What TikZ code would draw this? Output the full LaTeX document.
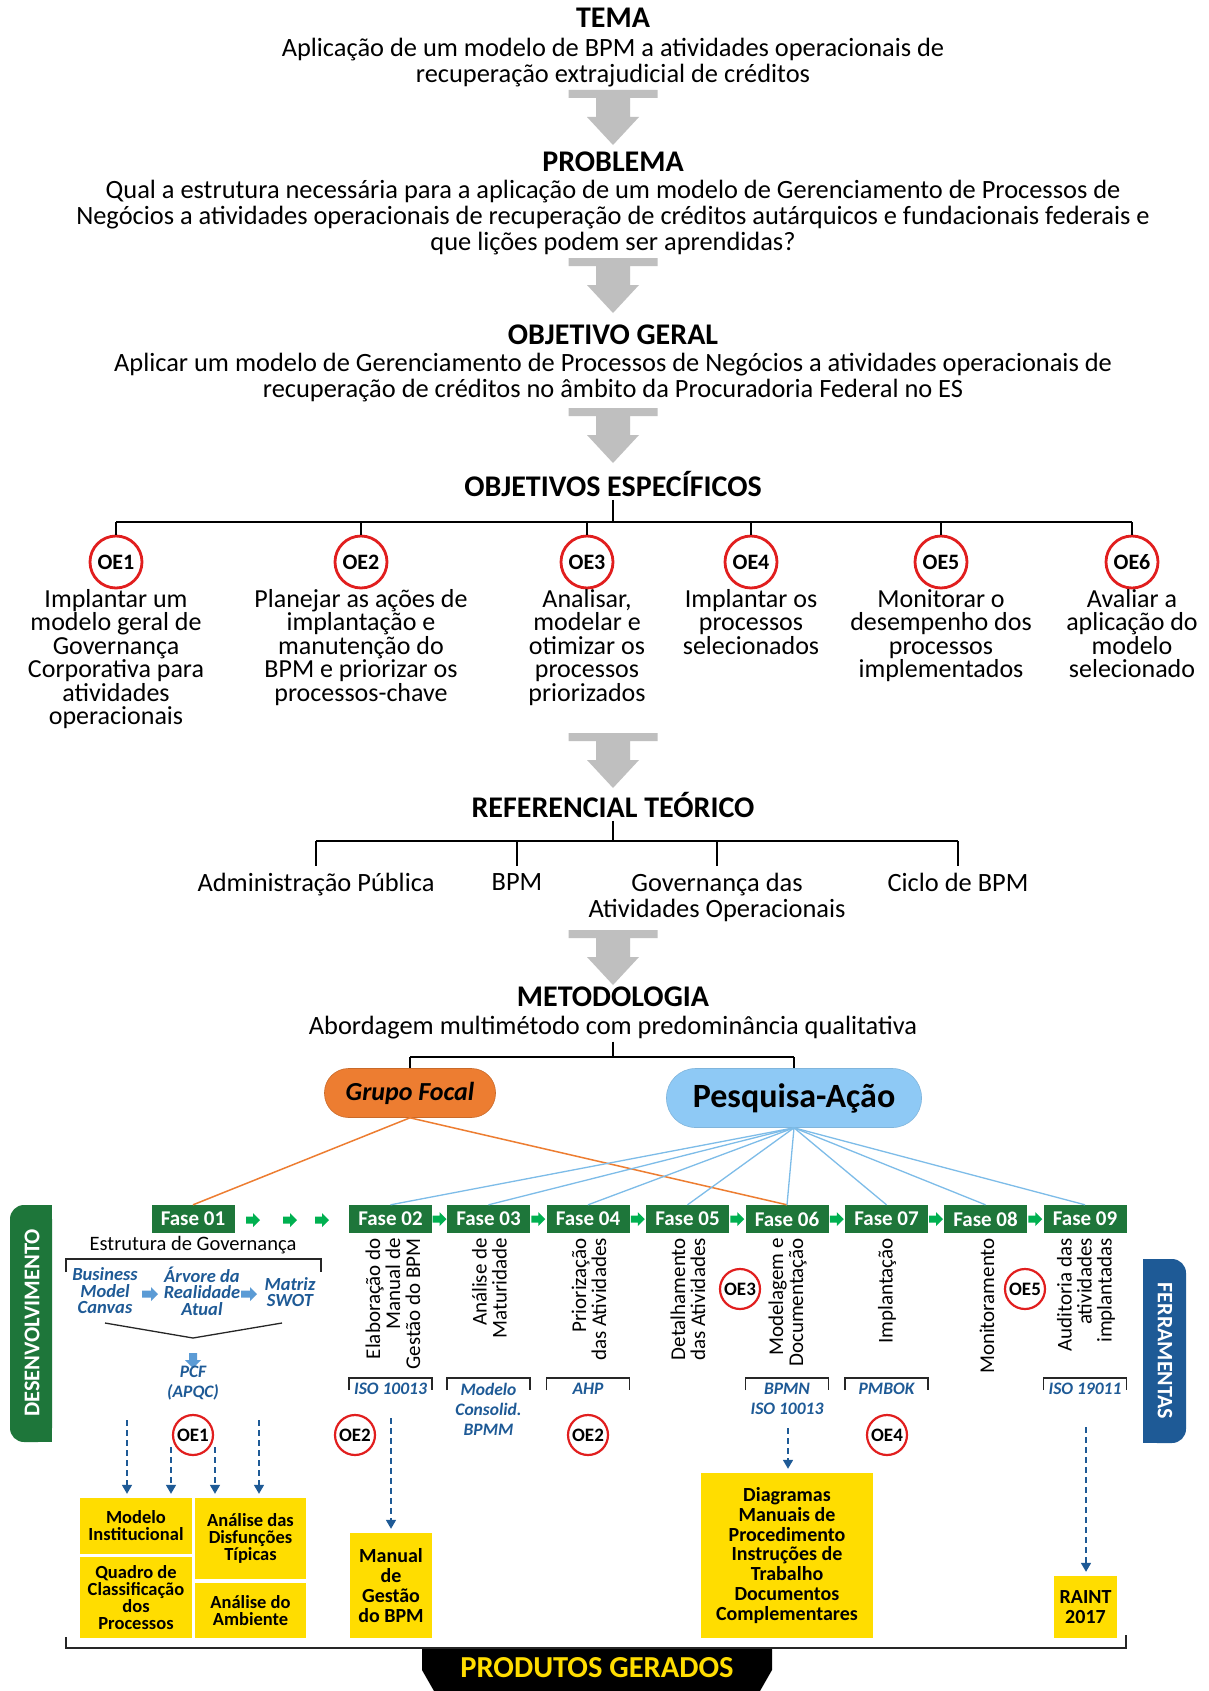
\documentclass[tikz,border=0pt]{standalone}
\usepackage{fontspec}
\setmainfont{Carlito}
\usetikzlibrary{arrows.meta,calc}
\definecolor{fgreen}{RGB}{30,118,58}
\definecolor{agreen}{RGB}{0,176,80}
\definecolor{dblue}{RGB}{30,90,150}
\definecolor{lblue}{RGB}{91,155,213}
\definecolor{pblue}{RGB}{142,201,245}
\definecolor{cblue}{RGB}{125,188,232}
\definecolor{orng}{RGB}{237,125,49}
\definecolor{ored}{RGB}{225,30,30}
\definecolor{ylw}{RGB}{255,221,0}
\definecolor{garr}{RGB}{191,191,191}
\newcommand\fTitle{\fontsize{30}{32}\selectfont\bfseries}
\newcommand\fBody{\fontsize{26.4}{26}\selectfont}
\newcommand\fOEt{\fontsize{26}{23.5}\selectfont}
\newcommand\fRef{\fontsize{26.4}{26}\selectfont}
\newcommand\fOEc{\fontsize{22}{22}\selectfont\bfseries}
\newcommand\fOEs{\fontsize{19}{19}\selectfont\bfseries}
\newcommand\fFase{\fontsize{21}{21}\selectfont\bfseries}
\newcommand\fV{\fontsize{21}{20}\selectfont}
\newcommand\fTool{\fontsize{17.5}{20}\selectfont\bfseries\itshape}
\newcommand\fBlue{\fontsize{18.5}{16.5}\selectfont\bfseries\itshape}
\newcommand\fY{\fontsize{18.5}{17}\selectfont\bfseries}
\newcommand\fYb{\fontsize{20}{19.7}\selectfont\bfseries}
\newcommand\fSideA{\fontsize{22.5}{22}\selectfont\bfseries}
\newcommand\fSideB{\fontsize{22}{22}\selectfont\bfseries}
\newcommand\fGov{\fontsize{20.5}{22}\selectfont}
\newcommand\fGF{\fontsize{26}{26}\selectfont\bfseries\itshape}
\newcommand\fPA{\fontsize{34}{34}\selectfont\bfseries}
\newcommand\fPG{\fontsize{30.5}{30.5}\selectfont\bfseries}
\begin{document}
\begin{tikzpicture}[x=1pt,y=-1pt,
  ttl/.style={font=\fTitle, inner sep=0},
  body/.style={font=\fBody, align=center, inner sep=0},
  oec/.style={circle, draw=ored, line width=2.8pt, fill=white, minimum size=52pt, inner sep=0, font=\fOEc},
  oesm/.style={circle, draw=ored, line width=2.2pt, fill=white, minimum size=40pt, inner sep=0, font=\fOEs},
  oetxt/.style={font=\fOEt, align=center, inner sep=0, anchor=north},
  reflab/.style={font=\fRef, align=center, inner sep=0, anchor=north},
  tree/.style={line width=1.6pt, black},
  fase/.style={fill=fgreen, text=white, font=\fFase, minimum width=83pt, minimum height=28pt, inner sep=0},
  vlab/.style={rotate=90, anchor=east, align=right, font=\fV, inner sep=0},
  tool/.style={font=\fTool, text=dblue, align=center, inner sep=0, anchor=north},
  bluet/.style={font=\fBlue, text=dblue, align=center, inner sep=0},
  brk/.style={line width=1.3pt, black!85},
  ybox/.style={fill=ylw, align=center, inner sep=0, font=\fY},
  darr/.style={dblue, line width=1.6pt, dash pattern=on 6pt off 4pt, shorten >=4pt, -{Triangle[width=10pt,length=9pt]}},
  ocon/.style={orng, line width=1.5pt},
  bcon/.style={cblue, line width=1.3pt},
  grayarrow/.pic={\fill[garr] (-44.5,0) -- (44.5,0) -- (44.5,8) -- (17,8) -- (17,27) -- (26,27) -- (0,55) -- (-26,27) -- (-17,27) -- (-17,8) -- (-44.5,8) -- cycle;},
  garrow/.pic={\fill[agreen] (-7,-3.5) -- (0,-3.5) -- (0,-7) -- (7,0) -- (0,7) -- (0,3.5) -- (-7,3.5) -- cycle;},
  barrow/.pic={\fill[lblue] (-8,-3.5) -- (1,-3.5) -- (1,-7) -- (8,0) -- (1,7) -- (1,3.5) -- (-8,3.5) -- cycle;},
  bdarrow/.pic={\fill[lblue] (-4,0) -- (4,0) -- (4,7) -- (8,7) -- (0,15) -- (-8,7) -- (-4,7) -- cycle;},
]
\useasboundingbox (0,0) rectangle (1208,1691);
\fill[white] (0,0) rectangle (1208,1691);

% ---------- top section ----------
\node[ttl] (tema) at (613,18) {TEMA};
\node[body] (temat) at (613,63) {Aplicação de um modelo de BPM a atividades operacionais de\\recuperação extrajudicial de créditos};
\pic at (613,90) {grayarrow};
\node[ttl] (prob) at (613,162) {PROBLEMA};
\node[body] (probt) at (613,218) {Qual a estrutura necessária para a aplicação de um modelo de Gerenciamento de Processos de\\Negócios a atividades operacionais de recuperação de créditos autárquicos e fundacionais federais e\\que lições podem ser aprendidas?};
\pic at (613,258) {grayarrow};
\node[ttl] (og) at (613,335) {OBJETIVO GERAL};
\node[body] (ogt) at (613,378) {Aplicar um modelo de Gerenciamento de Processos de Negócios a atividades operacionais de\\recuperação de créditos no âmbito da Procuradoria Federal no ES};
\pic at (613,408) {grayarrow};
\node[ttl] (oes) at (613,484) {OBJETIVOS ESPECÍFICOS};

% ---------- specific objectives ----------
\node[oec] (oe1) at (116,562) {OE1};
\node[oec] (oe2) at (361,562) {OE2};
\node[oec] (oe3) at (587,562) {OE3};
\node[oec] (oe4) at (751,562) {OE4};
\node[oec] (oe5) at (941,562) {OE5};
\node[oec] (oe6) at (1132,562) {OE6};
\draw[tree] ([yshift=-3pt]oes.south) -- (613,522);
\draw[tree] (116,522) -- (1132,522);
\foreach \o in {oe1,oe2,oe3,oe4,oe5,oe6} \draw[tree] (\o.north |- 0,522) -- (\o.north);
\node[oetxt] (oe1t) at (116,589) {Implantar um\\modelo geral de\\Governança\\Corporativa para\\atividades\\operacionais};
\node[oetxt] (oe2t) at (361,589) {Planejar as ações de\\implantação e\\manutenção do\\BPM e priorizar os\\processos-chave};
\node[oetxt] (oe3t) at (587,589) {Analisar,\\modelar e\\otimizar os\\processos\\priorizados};
\node[oetxt] (oe4t) at (751,589) {Implantar os\\processos\\selecionados};
\node[oetxt] (oe5t) at (941,589) {Monitorar o\\desempenho dos\\processos\\implementados};
\node[oetxt] (oe6t) at (1132,589) {Avaliar a\\aplicação do\\modelo\\selecionado};
\pic at (613,733) {grayarrow};

% ---------- referencial ----------
\node[ttl] (ref) at (613,805) {REFERENCIAL TEÓRICO};
\draw[tree] ([yshift=-3pt]ref.south) -- (613,841);
\draw[tree] (316,841) -- (958,841);
\node[reflab] (r1) at (316,873) {Administração Pública};
\node[reflab] (r2) at (517,873) {BPM};
\node[reflab] (r3) at (717,873) {Governança das\\Atividades Operacionais};
\node[reflab] (r4) at (958,873) {Ciclo de BPM};
\foreach \r in {r1,r2,r3,r4} \draw[tree] (\r.north |- 0,841) -- (\r.north |- 0,866);
\pic at (613,930) {grayarrow};

% ---------- metodologia ----------
\node[ttl] (met) at (613,997) {METODOLOGIA};
\node[body] (mett) at (613,1028) {Abordagem multimétodo com predominância qualitativa};
\node[fill=orng, draw=orng!85!black, line width=0.6pt, rounded corners=24pt, minimum width=171pt, minimum height=49pt, inner sep=0, font=\fGF] (gf) at (410,1093) {Grupo Focal};
\node[fill=pblue, draw=pblue!90!black, line width=0.6pt, rounded corners=29pt, minimum width=255pt, minimum height=59pt, inner sep=0, font=\fPA] (pa) at (794,1098) {Pesquisa-Ação};
\draw[tree] ([yshift=-2pt]mett.south) -- (613,1057);
\draw[tree] (gf.north |- 0,1057) -- (pa.north |- 0,1057);
\draw[tree] (gf.north |- 0,1057) -- (gf.north);
\draw[tree] (pa.north |- 0,1057) -- (pa.north);

% ---------- phases ----------
\node[fase] (f1) at (193,1219) {Fase 01};
\node[fase] (f2) at (390.5,1219) {Fase 02};
\node[fase] (f3) at (488.5,1219) {Fase 03};
\node[fase] (f4) at (588,1219) {Fase 04};
\node[fase] (f5) at (687.5,1219) {Fase 05};
\node[fase] (f6) at (787,1219) {Fase 06};
\node[fase] (f7) at (886.5,1219) {Fase 07};
\node[fase] (f8) at (985.5,1219) {Fase 08};
\node[fase] (f9) at (1085,1219) {Fase 09};
\draw[ocon] (gf.south) -- (f1.north);
\draw[ocon] (gf.south) -- (f6.north);
\foreach \f in {f2,f3,f4,f5,f6,f7,f8,f9} \draw[bcon] (pa.south) -- (\f.north);
\pic at (253,1220) {garrow};
\pic at (290,1220) {garrow};
\pic at (322,1220) {garrow};
\pic at ($(f2.east)!0.5!(f3.west)$) {garrow};
\pic at ($(f3.east)!0.5!(f4.west)$) {garrow};
\pic at ($(f4.east)!0.5!(f5.west)$) {garrow};
\pic at ($(f5.east)!0.5!(f6.west)$) {garrow};
\pic at ($(f6.east)!0.5!(f7.west)$) {garrow};
\pic at ($(f7.east)!0.5!(f8.west)$) {garrow};
\pic at ($(f8.east)!0.5!(f9.west)$) {garrow};

% vertical labels
\node[vlab] (v2) at (393,1238) {Elaboração do\\Manual de\\Gestão do BPM};
\node[vlab] (v3) at (489.5,1238) {Análise de\\Maturidade};
\node[vlab] (v4) at (589,1238) {Priorização\\das Atividades};
\node[vlab] (v5) at (688,1238) {Detalhamento\\das Atividades};
\node[vlab] (v6) at (787.5,1238) {Modelagem e\\Documentação};
\node[vlab] (v7) at (887,1238) {Implantação};
\node[vlab] (v8) at (987,1238) {Monitoramento};
\node[vlab] (v9) at (1086,1238) {Auditoria das\\atividades\\implantadas};

% tools brackets
\foreach \c in {390.5,488.5,588,787,886.5,1085} \draw[brk] (\c-41.5,1390) -- (\c-41.5,1378) -- (\c+41.5,1378) -- (\c+41.5,1390);
\node[tool] (t2) at (390.5,1383) {ISO 10013};
\node[tool] (t3) at (488.5,1383) {Modelo\\Consolid.\\BPMM};
\node[tool] (t4) at (588,1383) {AHP};
\node[tool] (t6) at (787,1383) {BPMN\\ISO 10013};
\node[tool] (t7) at (886.5,1383) {PMBOK};
\node[tool] (t9) at (1085,1383) {ISO 19011};

% Fase 01 detail
\node[font=\fGov, inner sep=0] (eg) at (193,1245) {Estrutura de Governança};
\draw[brk] (66,1272) -- (66,1259) -- (321,1259) -- (321,1272);
\node[bluet] (bmc) at (105,1291) {Business\\Model\\Canvas};
\node[bluet] (arv) at (202,1291) {Árvore da\\Realidade\\Atual};
\node[bluet] (swot) at (290,1292) {Matriz\\SWOT};
\pic at (150,1294) {barrow};
\pic at (249,1294) {barrow};
\draw[brk] (105,1323) -- (193,1338) -- (282,1323);
\pic at (193,1353) {bdarrow};
\node[bluet, font=\fTool] (pcf) at (193,1383) {PCF\\(APQC)};

% OE small circles
\node[oesm] (s1) at (193,1435) {OE1};
\node[oesm] (s2) at (355,1435) {OE2};
\node[oesm] (s3) at (588,1435) {OE2};
\node[oesm] (s4) at (740,1289) {OE3};
\node[oesm] (s5) at (887,1435) {OE4};
\node[oesm] (s6) at (1025,1289) {OE5};

% products
\node[ybox, minimum width=112pt, minimum height=56pt] (mi) at (136,1526) {Modelo\\Institucional};
\node[ybox, minimum width=112pt, minimum height=81pt] (qc) at (136,1597.5) {Quadro de\\Classificação\\dos\\Processos};
\node[ybox, minimum width=111pt, minimum height=81pt] (ad) at (250.5,1538.5) {Análise das\\Disfunções\\Típicas};
\node[ybox, minimum width=111pt, minimum height=55pt] (aa) at (250.5,1610.5) {Análise do\\Ambiente};
\node[ybox, font=\fYb, minimum width=82pt, minimum height=105pt] (mg) at (391,1585.5) {Manual\\de\\Gestão\\do BPM};
\node[ybox, font=\fYb, minimum width=172pt, minimum height=165pt] (dg) at (787,1555.5) {Diagramas\\Manuais de\\Procedimento\\Instruções de\\Trabalho\\Documentos\\Complementares};
\node[ybox, font=\fYb, minimum width=63pt, minimum height=62pt] (rt) at (1085.5,1607) {RAINT\\2017};

\coordinate (d1) at (127,1420);
\coordinate (d2) at (171,1447);
\coordinate (d3) at (215,1447);
\coordinate (d4) at (259,1420);
\coordinate (d5) at (391,1418);
\coordinate (d6) at (788,1428);
\coordinate (d7) at (1086,1427);
\draw[darr] (d1) -- (d1 |- mi.north);
\draw[darr] (d2) -- (d2 |- mi.north);
\draw[darr] (d3) -- (d3 |- ad.north);
\draw[darr] (d4) -- (d4 |- ad.north);
\draw[darr] (d5) -- (d5 |- mg.north);
\draw[darr] (d6) -- (d6 |- dg.north);
\draw[darr] (d7) -- (d7 |- rt.north);

% side labels
\fill[fgreen, rounded corners=14pt] (10,1205) rectangle (52,1442);
\fill[fgreen] (31,1205) rectangle (52,1442);
\node[rotate=90, text=white, font=\fSideA, inner sep=0] (dev) at (32,1323) {DESENVOLVIMENTO};
\fill[dblue, rounded corners=14pt] (1143,1259) rectangle (1186,1443);
\fill[dblue] (1143,1259) rectangle (1164,1443);
\node[rotate=-90, text=white, font=\fSideB, inner sep=0] (fer) at (1165,1351) {FERRAMENTAS};

% bottom bracket
\draw[line width=1.5pt, black!85] (66,1637) -- (66,1648) -- (1126,1648) -- (1126,1635);
\fill[black] (422,1649) -- (772,1649) -- (772,1670) -- (760,1691) -- (434,1691) -- (422,1670) -- cycle;
\node[text=ylw, font=\fPG, inner sep=0] (pg) at (597,1668) {PRODUTOS GERADOS};
\end{tikzpicture}
\end{document}
